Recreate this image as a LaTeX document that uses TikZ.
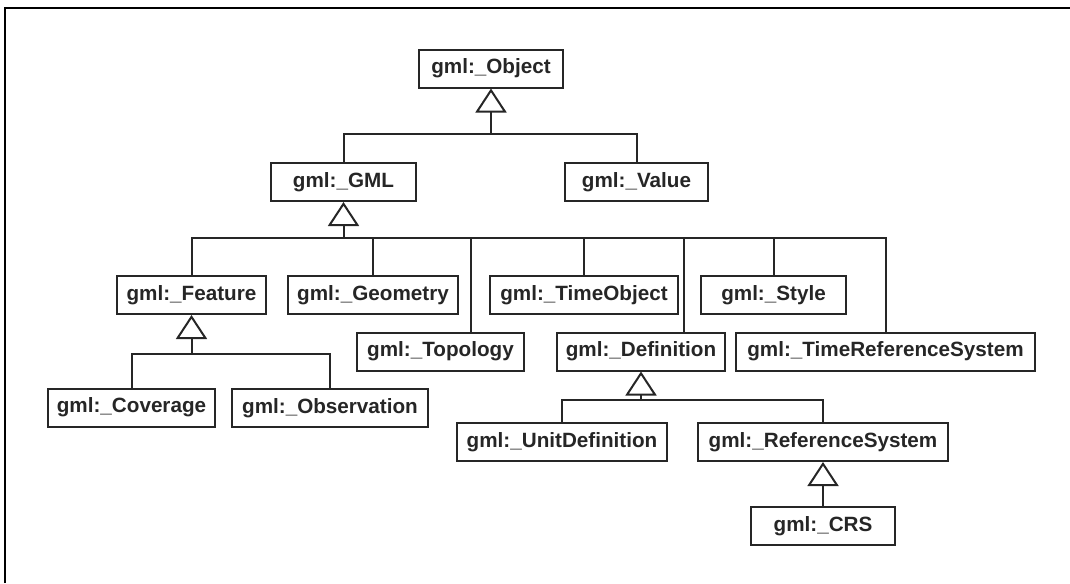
\documentclass[tikz,border=0pt]{standalone}
\usepackage{fontspec}
\setmainfont{Liberation Sans}
\usetikzlibrary{arrows.meta}
\begin{document}
\begin{tikzpicture}[x=0.75pt,y=-0.75pt,
  cls/.style={draw=black!85, line width=1.5pt, fill=white, inner sep=0pt,
    minimum height=38*0.75pt, text=black!85,
    font=\fontsize{15.5pt}{18pt}\selectfont\bfseries},
  link/.style={draw=black!85, line width=1.5pt},
  inherit/.style={link, -{Triangle[open, length=24*0.75pt, width=31*0.75pt, line width=1.5pt]}}
]
\useasboundingbox (0,0) rectangle (1070,583);
% frame
\draw[line width=1.8pt] (5,583) -- (5,8) -- (1070,8);

% classes
\node[cls, minimum width=144*0.75pt] (obj)     at (491,68.5)  {gml:\_Object};
\node[cls, minimum width=145*0.75pt] (gml)     at (343.5,182) {gml:\_GML};
\node[cls, minimum width=143*0.75pt] (val)     at (636.5,182) {gml:\_Value};
\node[cls, minimum width=149*0.75pt] (feat)    at (191.5,295) {gml:\_Feature};
\node[cls, minimum width=170*0.75pt] (geom)    at (373,295)   {gml:\_Geometry};
\node[cls, minimum width=188*0.75pt] (tobj)    at (584,295)   {gml:\_TimeObject};
\node[cls, minimum width=145*0.75pt] (style)   at (773.5,295) {gml:\_Style};
\node[cls, minimum width=167*0.75pt] (topo)    at (440.5,351.5) {gml:\_Topology};
\node[cls, minimum width=168*0.75pt] (defn)    at (641,351.5) {gml:\_Definition};
\node[cls, minimum width=299*0.75pt] (trs)     at (885.5,351.5) {gml:\_TimeReferenceSystem};
\node[cls, minimum width=167*0.75pt] (cov)     at (131.5,407.5) {gml:\_Coverage};
\node[cls, minimum width=196*0.75pt] (obs)     at (330,408)   {gml:\_Observation};
\node[cls, minimum width=210*0.75pt] (unit)    at (562,442)   {gml:\_UnitDefinition};
\node[cls, minimum width=250*0.75pt] (rs)      at (823,442)   {gml:\_ReferenceSystem};
\node[cls, minimum width=144*0.75pt] (crs)     at (823,526)   {gml:\_CRS};

% junctions of the generalisation trees
\coordinate (jobj)  at (491,134);
\coordinate (jgml)  at (343.5,238);
\coordinate (jfeat) at (191.5,354);
\coordinate (jdef)  at (641,400);

% gml:_Object
\draw[link] (gml.north) |- (jobj);
\draw[link] (val.north) |- (jobj);
\draw[inherit] (jobj) -- (obj.south);

% gml:_GML
\draw[link] (feat.north) |- (jgml);
\draw[link] (geom.north) |- (jgml);
\draw[link] ([xshift=30.5*0.75pt]topo.north) |- (jgml);
\draw[link] (tobj.north) |- (jgml);
\draw[link] ([xshift=43*0.75pt]defn.north) |- (jgml);
\draw[link] (style.north) |- (jgml);
\draw[link] (trs.north) |- (jgml);
\draw[inherit] (jgml) -- (gml.south);

% gml:_Feature
\draw[link] (cov.north) |- (jfeat);
\draw[link] (obs.north) |- (jfeat);
\draw[inherit] (jfeat) -- (feat.south);

% gml:_Definition
\draw[link] (unit.north) |- (jdef);
\draw[link] (rs.north) |- (jdef);
\draw[inherit] (jdef) -- (defn.south);

% gml:_ReferenceSystem
\draw[inherit] (crs.north) -- (rs.south);
\end{tikzpicture}
\end{document}
